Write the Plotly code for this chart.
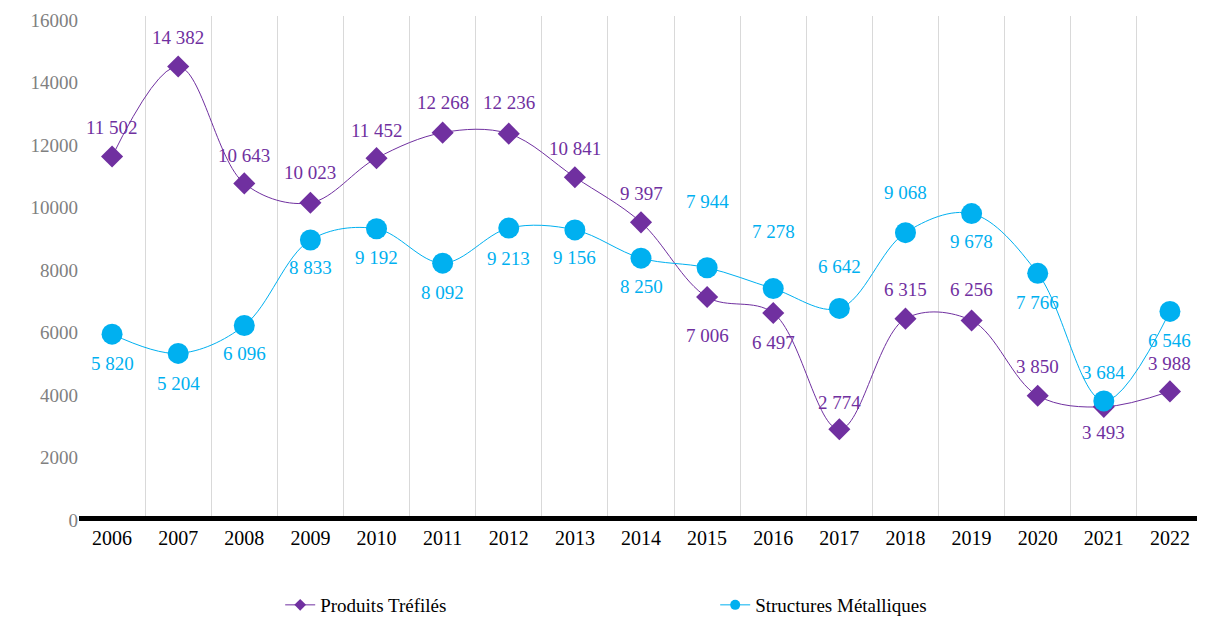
import plotly.graph_objects as go

years = [str(y) for y in range(2006, 2023)]
produits = [11502, 14382, 10643, 10023, 11452, 12268, 12236, 10841, 9397,
            7006, 6497, 2774, 6315, 6256, 3850, 3493, 3988]
structures = [5820, 5204, 6096, 8833, 9192, 8092, 9213, 9156, 8250,
              7944, 7278, 6642, 9068, 9678, 7766, 3684, 6546]

# label vertical offsets (px, positive = up)
off_p = [29, 29, 28, 30, 28, 30, 31, 29, 29, -38, -30, 27, 29, 31, 29, -26, 28]
off_s = [-29, -30, -28, -28, -29, -29, -30, -28, -28, 66, 57, 42, 40, -28, -29, 28, -29]

PURPLE = "#7030A0"
CYAN = "#00B0F0"
FONT = "Liberation Serif"

def fmt(v):
    return f"{v:,}".replace(",", " ")

fig = go.Figure()
fig.add_trace(go.Scatter(
    x=years, y=produits, name="Produits Tréfilés", mode="lines+markers",
    line=dict(color=PURPLE, width=1, shape="spline", smoothing=1.0),
    marker=dict(symbol="diamond", size=17, color=PURPLE), showlegend=False,
))
fig.add_trace(go.Scatter(
    x=years, y=structures, name="Structures Métalliques", mode="lines+markers",
    line=dict(color=CYAN, width=1, shape="spline", smoothing=1.0),
    marker=dict(symbol="circle", size=21, color=CYAN), showlegend=False,
))
# legend entries (small symbols as in the reference)
fig.add_trace(go.Scatter(
    x=[None], y=[None], name="Produits Tréfilés", mode="lines+markers",
    line=dict(color=PURPLE, width=1), marker=dict(symbol="diamond", size=9, color=PURPLE),
))
fig.add_trace(go.Scatter(
    x=[None], y=[None], name="Structures Métalliques", mode="lines+markers",
    line=dict(color=CYAN, width=1), marker=dict(symbol="circle", size=10, color=CYAN),
))

annotations = []
for i, (v, o) in enumerate(zip(produits, off_p)):
    annotations.append(dict(x=i, y=v, xref="x", yref="y", text=fmt(v),
                            showarrow=False, yshift=o,
                            font=dict(family=FONT, size=19, color=PURPLE)))
for i, (v, o) in enumerate(zip(structures, off_s)):
    annotations.append(dict(x=i, y=v, xref="x", yref="y", text=fmt(v),
                            showarrow=False, yshift=o,
                            font=dict(family=FONT, size=19, color=CYAN)))

fig.update_layout(
    width=1205, height=620,
    margin=dict(l=71, r=10, t=8, b=112, autoexpand=False),
    paper_bgcolor="white", plot_bgcolor="white",
    font=dict(family=FONT, size=18, color="black"),
    annotations=annotations,
    showlegend=True,
    legend=dict(orientation="h", x=0.179, xanchor="left", y=-0.178, yanchor="middle",
                entrywidth=390, entrywidthmode="pixels",
                font=dict(family=FONT, size=19, color="black"),
                bgcolor="rgba(0,0,0,0)"),
    xaxis=dict(type="category", tickson="boundaries", showgrid=True,
               gridcolor="#D9D9D9", gridwidth=1, ticks="", automargin=False,
               showline=True, linecolor="black", linewidth=5,
               tickfont=dict(family=FONT, size=20, color="black"),
               range=[-0.5, 16.5]),
    yaxis=dict(range=[0, 16000], dtick=2000, tickformat="d", showgrid=False,
               zeroline=False, showline=False, ticks="", ticklabeloverflow="allow",
               automargin=False, ticklabelshift=4,
               tickfont=dict(family=FONT, size=19, color="#808080")),
)

fig.write_html("out.html")
